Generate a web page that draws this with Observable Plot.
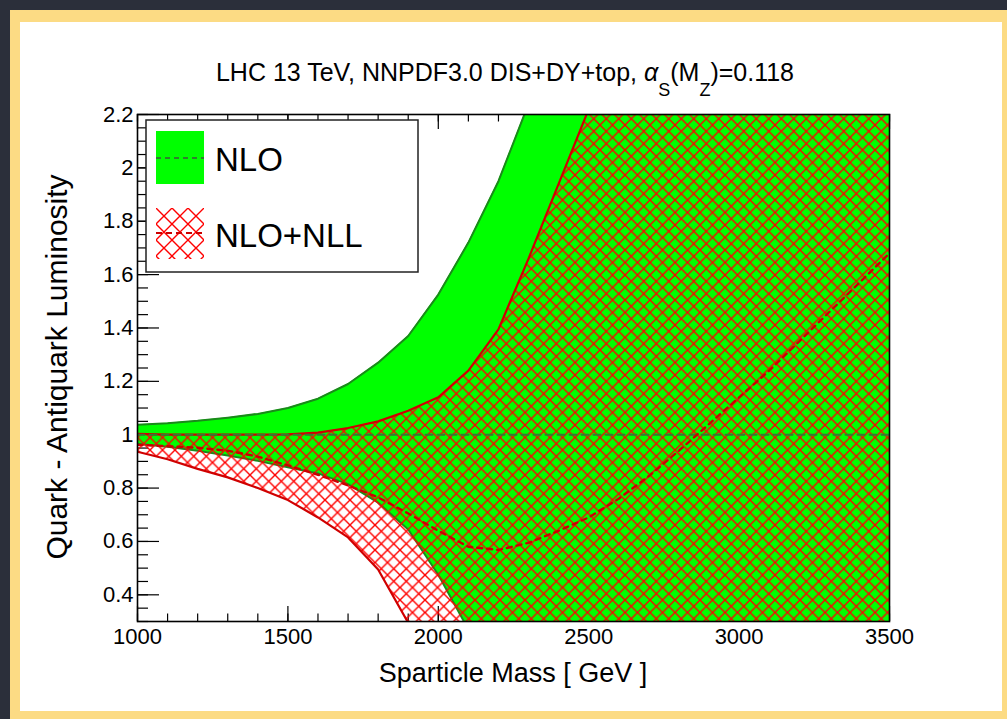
<!DOCTYPE html>
<html>
<head>
<meta charset="utf-8">
<script src="https://cdn.jsdelivr.net/npm/d3@7"></script>
<script src="https://cdn.jsdelivr.net/npm/@observablehq/plot@0.6"></script>
<style>
  html, body { margin: 0; padding: 0; }
  body { width: 1007px; height: 719px; overflow: hidden; background: #2b2f3a; position: relative; font-family: "Liberation Sans", Arial, sans-serif; }
  #yellow { position: absolute; left: 10px; top: 10px; width: 1010px; height: 720px; background: #fcdb84; }
  #white { position: absolute; left: 20px; top: 22px; width: 982px; height: 689px; background: #ffffff; }
  #chart { position: absolute; left: 0; top: 0; }
  #title { position: absolute; left: 0; width: 1010px; top: 60px; text-align: center; font-size: 25px; line-height: 25px; white-space: nowrap; color: #000; }
  #title .sub { font-size: 18px; position: relative; top: 15px; }
  #ylabel { position: absolute; left: 57px; top: 367px; transform: translate(-50%, -50%) rotate(-90deg); font-size: 30px; line-height: 30px; white-space: nowrap; color: #000; }
  #xlabel { position: absolute; left: 513px; top: 660px; transform: translateX(-50%); font-size: 27px; line-height: 27px; white-space: nowrap; color: #000; }
  #legend { position: absolute; left: 145px; top: 119px; }
</style>
</head>
<body>
<div id="yellow"></div>
<div id="white"></div>
<div id="chart"></div>
<div id="title">LHC 13 TeV, NNPDF3.0 DIS+DY+top, <i>α</i><span class="sub">S</span>(M<span class="sub">Z</span>)=0.118</div>
<div id="ylabel">Quark - Antiquark Luminosity</div>
<div id="xlabel">Sparticle Mass [ GeV ]</div>
<svg id="legend" width="275" height="156">
  <defs>
    <pattern id="hatchL" patternUnits="userSpaceOnUse" width="16" height="16" x="11" y="89">
      <path d="M-1,-1L17,17M17,-1L-1,17" stroke="#ff0000" stroke-width="1.4" fill="none"/>
    </pattern>
  </defs>
  <rect x="1" y="1" width="272" height="152" fill="#fff" stroke="#222" stroke-width="1.5"/>
  <rect x="11" y="12" width="48" height="53" fill="#00ff00"/>
  <line x1="11" x2="59" y1="39" y2="39" stroke="#2f7f2f" stroke-width="2" stroke-dasharray="5,4"/>
  <rect x="11" y="89" width="48" height="51" fill="url(#hatchL)"/>
  <line x1="11" x2="59" y1="114" y2="114" stroke="#cc0000" stroke-width="2.2" stroke-dasharray="6,4"/>
  <text x="70" y="52" font-size="33" font-family="Liberation Sans, Arial, sans-serif">NLO</text>
  <text x="70" y="128" font-size="33" font-family="Liberation Sans, Arial, sans-serif">NLO+NLL</text>
</svg>
<script>
// ---- data ----
const mass = [1000,1100,1200,1300,1400,1500,1600,1700,1800,1900,2000,2100,2200,2300,2400,2500,2600,2700,2800,2900,3000,3100,3200,3300,3400,3500];
// NLO band (green); values above 2.2 / below 0.3 lie outside the frame
const nloUpper = [1.037,1.043,1.052,1.064,1.078,1.10,1.135,1.19,1.27,1.37,1.525,1.72,1.95,2.24,2.3,2.3,2.3,2.3,2.3,2.3,2.3,2.3,2.3,2.3,2.3,2.3];
const nloLower = [0.966,0.955,0.94,0.922,0.902,0.878,0.855,0.815,0.745,0.645,0.475,0.27,0.2,0.2,0.2,0.2,0.2,0.2,0.2,0.2,0.2,0.2,0.2,0.2,0.2,0.2];
const nloCentral = [1,1,1,1,1,1,1,1,1,1,1,1,1,1,1,1,1,1,1,1,1,1,1,1,1,1];
// NLO+NLL band (red hatched)
const nllUpper = [1.003,1.0,1.0,1.0,1.0,1.001,1.008,1.025,1.05,1.09,1.14,1.24,1.395,1.66,1.94,2.22,2.3,2.3,2.3,2.3,2.3,2.3,2.3,2.3,2.3,2.3];
const nllLower = [0.936,0.908,0.872,0.84,0.80,0.755,0.69,0.615,0.495,0.295,0.2,0.2,0.2,0.2,0.2,0.2,0.2,0.2,0.2,0.2,0.2,0.2,0.2,0.2,0.2,0.2];
const nllCentral = [0.962,0.957,0.951,0.94,0.918,0.885,0.85,0.81,0.765,0.705,0.64,0.58,0.568,0.595,0.64,0.69,0.76,0.845,0.94,1.04,1.14,1.24,1.35,1.46,1.57,1.68];
// ticks
const xMajor = [1000,1500,2000,2500,3000,3500];
const xMinor = [1000,1100,1200,1300,1400,1500,1600,1700,1800,1900,2000,2100,2200,2300,2400,2500,2600,2700,2800,2900,3000,3100,3200,3300,3400,3500];
const yMajor = [0.4,0.6,0.8,1,1.2,1.4,1.6,1.8,2,2.2];
const yMinor = [0.3,0.35,0.4,0.45,0.5,0.55,0.6,0.65,0.7,0.75,0.8,0.85,0.9,0.95,1,1.05,1.1,1.15,1.2,1.25,1.3,1.35,1.4,1.45,1.5,1.55,1.6,1.65,1.7,1.75,1.8,1.85,1.9,1.95,2,2.05,2.1,2.15,2.2];

const rows = mass.map((m, i) => ({
  m, nloUp: nloUpper[i], nloLo: nloLower[i], nloC: nloCentral[i],
  nllUp: nllUpper[i], nllLo: nllLower[i], nllC: nllCentral[i]
}));

const W = 1007, Hh = 719, mL = 137, mR = 118, mT = 114, mB = 98;
const FW = W - mL - mR, FH = Hh - mT - mB;
const fmt = d => `${d}`;

const chart = Plot.plot({
  width: W, height: Hh,
  marginLeft: mL, marginRight: mR, marginTop: mT, marginBottom: mB,
  style: { background: "transparent", fontFamily: "Liberation Sans, Arial, sans-serif", color: "#000", overflow: "visible" },
  x: { domain: [1000, 3500] },
  y: { domain: [0.3, 2.2] },
  marks: [
    // ROOT-style inward ticks
    Plot.tickX(xMinor, { x: d => d, insetTop: FH - 7.5, stroke: "#000", strokeWidth: 1.2 }),
    Plot.tickX(xMajor, { x: d => d, insetTop: FH - 15, stroke: "#000", strokeWidth: 1.2 }),
    Plot.tickX(xMinor, { x: d => d, insetBottom: FH - 7.5, stroke: "#000", strokeWidth: 1.2 }),
    Plot.tickX(xMajor, { x: d => d, insetBottom: FH - 15, stroke: "#000", strokeWidth: 1.2 }),
    Plot.tickY(yMinor, { y: d => d, insetRight: FW - 11, stroke: "#000", strokeWidth: 1.2 }),
    Plot.tickY(yMajor, { y: d => d, insetRight: FW - 22, stroke: "#000", strokeWidth: 1.2 }),
    // NLO green band
    Plot.areaY(rows, { x: "m", y1: "nloLo", y2: "nloUp", fill: "#00ff00", clip: true }),
    Plot.line(rows, { x: "m", y: "nloUp", stroke: "#1a8a1a", strokeWidth: 2, clip: true }),
    Plot.line(rows, { x: "m", y: "nloLo", stroke: "#1a8a1a", strokeWidth: 2, clip: true }),
    // NLO+NLL hatched band
    Plot.areaY(rows, { x: "m", y1: "nllLo", y2: "nllUp", fill: "url(#hatch)", clip: true }),
    Plot.line(rows, { x: "m", y: "nllUp", stroke: "#d00000", strokeWidth: 2.2, clip: true }),
    Plot.line(rows, { x: "m", y: "nllLo", stroke: "#d00000", strokeWidth: 2.2, clip: true }),
    // central values
    Plot.line(rows, { x: "m", y: "nloC", stroke: "#357a35", strokeWidth: 2, strokeDasharray: "7,5", clip: true }),
    Plot.line(rows, { x: "m", y: "nllC", stroke: "#cc0000", strokeWidth: 2.4, strokeDasharray: "5,5", clip: true }),
    // frame and tick labels
    Plot.frame({ stroke: "#000", strokeWidth: 1.6 }),
    Plot.axisX(xMajor, { anchor: "bottom", tickSize: 0, tickPadding: 7, tickFormat: fmt, fontSize: 22, label: null }),
    Plot.axisY(yMajor, { anchor: "left", tickSize: 0, tickPadding: 4, tickFormat: fmt, fontSize: 22, label: null })
  ]
});

d3.select(chart).insert("defs", ":first-child").html(
  '<pattern id="hatch" patternUnits="userSpaceOnUse" width="12.5" height="12.5">' +
  '<path d="M-1,-1L13.5,13.5M13.5,-1L-1,13.5" stroke="#ff0000" stroke-width="1.4" fill="none"/></pattern>'
);
document.getElementById("chart").appendChild(chart);
</script>
</body>
</html>
